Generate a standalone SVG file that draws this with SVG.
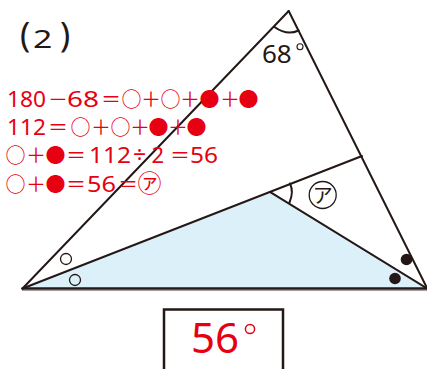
<svg xmlns="http://www.w3.org/2000/svg" width="427" height="369" viewBox="0 0 427 369">
<style>
.ln{stroke:#231815;stroke-width:2;fill:none;stroke-linecap:round}
.red{fill:#e60012}
.d{font-family:"Noto Sans","Liberation Sans",sans-serif;font-size:21px}
.s{font-family:"Noto Sans CJK JP",sans-serif;font-size:20px}
.blk{fill:#231815;font-family:"Noto Sans","Noto Sans CJK JP",sans-serif}
</style>
<rect width="427" height="369" fill="#fff"/>
<g id="shaded-triangle">
<polygon points="22.5,288.5 270.7,192.3 427,288.5" fill="#dcf0fa"/>
</g>
<g id="connectors">
<line x1="22" y1="290.5" x2="427" y2="290.5" stroke="#9d9d9d" stroke-width="1.2"/>
<line class="ln" x1="22.5" y1="288.5" x2="427" y2="288.5" style="stroke-width:2.4"/>
<line class="ln" x1="22.5" y1="288.5" x2="288.7" y2="11"/>
<line class="ln" x1="288.7" y1="11" x2="427" y2="288"/>
<line class="ln" x1="22.5" y1="288.5" x2="362" y2="156"/>
<line class="ln" x1="270.7" y1="192.3" x2="427" y2="288.5"/>
<path class="ln" d="M274.5,27 Q287,36 298.5,30.5"/>
<path class="ln" d="M290,183.5 Q294,192 289.5,202.5"/>
</g>
<g id="marks">
<circle cx="66" cy="259" r="5.5" fill="#fff" stroke="#231815" stroke-width="1.3"/>
<circle cx="75" cy="280" r="5.5" fill="none" stroke="#231815" stroke-width="1.3"/>
<circle cx="406.5" cy="259.5" r="5.8" fill="#231815"/>
<circle cx="395" cy="278.5" r="5.8" fill="#231815"/>
</g>
<g id="label-68">
<text class="blk" x="262" y="63" font-size="26">68</text>
<circle cx="300" cy="46.7" r="3" fill="none" stroke="#231815" stroke-width="1.1"/>
</g>
<g id="label-a">
<circle cx="322.7" cy="195" r="13.5" fill="#fff" stroke="#231815" stroke-width="1.3"/>
<text class="blk" x="322.7" y="203" font-size="20" text-anchor="middle" font-family="'Noto Sans CJK JP',sans-serif">ア</text>
</g>
<g id="title">
<text class="blk" y="46.5" font-size="34"><tspan x="20">(</tspan><tspan x="60">)</tspan></text>
<text class="blk" transform="translate(33,47.5) scale(1.3,1)" x="0" y="0" font-size="26">2</text>
</g>
<g id="work" class="red">
<text y="107"><tspan class="d" x="7" textLength="39" lengthAdjust="spacingAndGlyphs">180</tspan><tspan class="s" x="48">－</tspan><tspan class="d" x="67" textLength="32" lengthAdjust="spacingAndGlyphs">68</tspan><tspan class="s" x="101">＝</tspan><tspan class="s" x="121.5">○</tspan><tspan class="s" x="141">＋</tspan><tspan class="s" x="160.5">○</tspan><tspan class="s" x="180">＋</tspan><tspan class="s" x="199.5">●</tspan><tspan class="s" x="220">＋</tspan><tspan class="s" x="238.5">●</tspan></text>
<text y="135"><tspan class="d" x="7" textLength="39" lengthAdjust="spacingAndGlyphs">112</tspan><tspan class="s" x="48">＝</tspan><tspan class="s" x="70.5">○</tspan><tspan class="s" x="91">＋</tspan><tspan class="s" x="110.5">○</tspan><tspan class="s" x="130">＋</tspan><tspan class="s" x="148.5">●</tspan><tspan class="s" x="168">＋</tspan><tspan class="s" x="186.5">●</tspan></text>
<text y="163"><tspan class="s" x="5.5">○</tspan><tspan class="s" x="26">＋</tspan><tspan class="s" x="45.5">●</tspan><tspan class="s" x="66">＝</tspan><tspan class="d" x="89" textLength="42" lengthAdjust="spacingAndGlyphs">112</tspan><tspan class="d" x="133" style="font-size:23px">÷</tspan><tspan class="d" x="151.5" style="font-size:22px">2</tspan><tspan class="s" x="170">＝</tspan><tspan class="d" x="190" textLength="28" lengthAdjust="spacingAndGlyphs">56</tspan></text>
<text y="192"><tspan class="s" x="5.5">○</tspan><tspan class="s" x="26">＋</tspan><tspan class="s" x="45.5">●</tspan><tspan class="s" x="66">＝</tspan><tspan class="d" x="87" textLength="29" lengthAdjust="spacingAndGlyphs">56</tspan><tspan class="s" x="118">＝</tspan><tspan class="s" x="137.5" style="font-size:24px">㋐</tspan></text>
</g>
<g id="answer">
<rect x="164" y="309.5" width="119" height="70" fill="#fff" stroke="#231815" stroke-width="2.5"/>
<text x="191" y="353" font-size="42" fill="#e60012" font-family="'Noto Sans','Liberation Sans',sans-serif">56</text>
<circle cx="250" cy="329" r="4.6" fill="none" stroke="#e60012" stroke-width="1.5"/>
</g>
</svg>
